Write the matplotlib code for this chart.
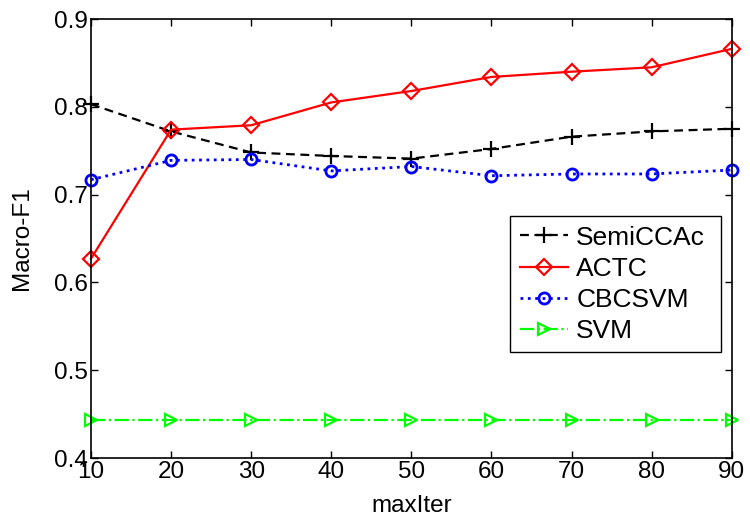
import matplotlib
matplotlib.use("Agg")
import matplotlib.pyplot as plt

plt.rcParams['font.family'] = ['Liberation Sans', 'DejaVu Sans']

max_iter = [10, 20, 30, 40, 50, 60, 70, 80, 90]
semiccac = [0.803, 0.772, 0.748, 0.744, 0.741, 0.752, 0.766, 0.772, 0.775]
actc = [0.627, 0.774, 0.779, 0.805, 0.818, 0.834, 0.840, 0.845, 0.866]
cbcsvm = [0.717, 0.739, 0.740, 0.727, 0.732, 0.7215, 0.7235, 0.7235, 0.728]
svm = [0.443, 0.443, 0.443, 0.443, 0.443, 0.443, 0.443, 0.443, 0.443]

xticks = [10, 20, 30, 40, 50, 60, 70, 80, 90]
yticks = [0.4, 0.5, 0.6, 0.7, 0.8, 0.9]

fig = plt.figure(figsize=(7.5, 5.18), dpi=100)
ax = fig.add_axes([0.1213, 0.1158, 0.8543, 0.8475])

ax.plot(max_iter, semiccac, color='black', linestyle=(0, (4, 2.5)), marker='+',
        markersize=11, markeredgewidth=1.6, linewidth=1.6, label='SemiCCAc', clip_on=False)
ax.plot(max_iter, actc, color='#ff0000', linestyle='-', marker='D',
        markersize=8, markerfacecolor='none', markeredgewidth=1.6, linewidth=1.6,
        label='ACTC', clip_on=False)
ax.plot(max_iter, cbcsvm, color='#0000ff', linestyle=':', marker='o',
        markersize=8, markerfacecolor='none', markeredgewidth=2, linewidth=2,
        label='CBCSVM', clip_on=False)
ax.plot(max_iter, svm, color='#00ff00', linestyle='-.', marker='>',
        markersize=9, markerfacecolor='none', markeredgewidth=1.6, linewidth=1.6,
        label='SVM', clip_on=False)

ax.set_xlim(10, 90)
ax.set_ylim(0.4, 0.9)
ax.set_xticks(xticks)
ax.set_xticklabels([str(t) for t in xticks])
ax.set_yticks(yticks)
ax.set_yticklabels(['0.4', '0.5', '0.6', '0.7', '0.8', '0.9'])
ax.tick_params(direction='in', top=True, right=True, length=5, width=1,
               labelsize=17.5, pad=2)
for s in ax.spines.values():
    s.set_linewidth(1.2)

ax.set_xlabel('maxIter', fontsize=17.5)
ax.xaxis.set_label_coords(0.5, -0.085)
ax.set_ylabel('Macro-F1', fontsize=17.5)
ax.yaxis.set_label_coords(-0.09, 0.5)

leg = ax.legend(loc='upper left', bbox_to_anchor=(0.654, 0.241, 0.329, 0.31),
                mode='expand', borderaxespad=0,
                fontsize=19, handlelength=1.85, handletextpad=0.3,
                labelspacing=0.27, borderpad=0.36, fancybox=False,
                edgecolor='black', framealpha=1)
leg.get_frame().set_linewidth(1.0)

fig.savefig('out.png', dpi=100)
